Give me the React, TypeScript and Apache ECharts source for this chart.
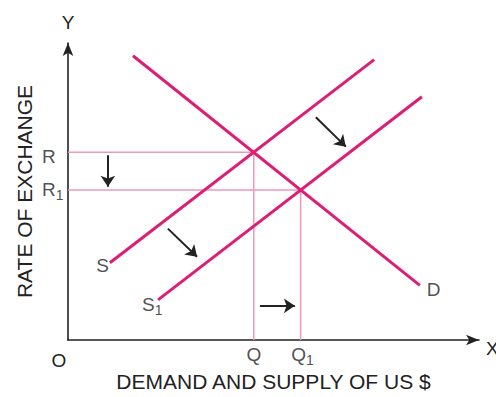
import React, { useEffect, useRef } from "react";
import * as echarts from "echarts";

// ---- data (value units: x 0..100, y 0..100) ----
const demandLine: number[][] = [[15.8, 95.7], [85.6, 18.4]];
const supplyLine: number[][] = [[10.2, 26.0], [74.5, 94.4]];
const supply1Line: number[][] = [[21.9, 13.5], [86.1, 81.9]];

const rateLabels = ["R", "R1"];
const rateValues = [63.2, 50.5];
const qtyLabels = ["Q", "Q1"];
const qtyValues = [45.2, 56.6];

const curveLabels = ["S", "S1", "D"];

// shift arrows: [from, to]
const shiftArrows: number[][][] = [
  [[9.7, 62.2], [9.7, 51.6]],
  [[46.7, 11.5], [55.2, 11.5]],
  [[24.3, 37.5], [31.4, 28.0]],
  [[60.3, 75.0], [67.6, 65.1]],
];

const xTitle = "DEMAND AND SUPPLY OF US $";
const yTitle = "RATE OF EXCHANGE";

const FONT = "'Liberation Sans', Arial, Helvetica, sans-serif";
const MAIN = "#dc1e74";
const GUIDE = "#ee98ba";
const INK = "#222222";

function fmt(t: string) {
  if (t.endsWith("1")) return `{m|${t.slice(0, -1)}}{s|1}`;
  return `{m|${t}}`;
}

const rich = {
  m: { fontSize: 19, lineHeight: 25, color: INK, fontFamily: FONT },
  s: { fontSize: 14, lineHeight: 14, verticalAlign: "bottom", color: INK, fontFamily: FONT },
};

// label placement styles keyed by name
const labelStyle: Record<string, { offset: number[]; align: string }> = {
  R: { offset: [-26, 4], align: "left" },
  R1: { offset: [-26, -1], align: "left" },
  Q: { offset: [0, 14], align: "center" },
  Q1: { offset: [2, 14], align: "center" },
  S: { offset: [-1, 3], align: "right" },
  S1: { offset: [-16, 5], align: "left" },
  D: { offset: [7, 4], align: "left" },
};

export default function App() {
  const ref = useRef<HTMLDivElement>(null);
  useEffect(() => {
    if (!ref.current) return;
    const chart = echarts.init(ref.current, undefined, { renderer: "svg" });

    const curveAnchors: Record<string, number[]> = {
      S: supplyLine[0],
      S1: supply1Line[0],
      D: demandLine[1],
    };

    const labelData: any[] = [];
    rateLabels.forEach((n, i) => labelData.push({ name: n, value: [0, rateValues[i]] }));
    qtyLabels.forEach((n, i) => labelData.push({ name: n, value: [qtyValues[i], 0] }));
    curveLabels.forEach((n) => labelData.push({ name: n, value: curveAnchors[n] }));

    const guideSeries: any[] = [];
    rateValues.forEach((r, i) => {
      guideSeries.push({
        type: "line",
        data: [[0, r], [qtyValues[i], r]],
        symbol: "none",
        lineStyle: { color: GUIDE, width: 1.5 },
        z: 1,
      });
      guideSeries.push({
        type: "line",
        data: [[qtyValues[i], 0], [qtyValues[i], r]],
        symbol: "none",
        lineStyle: { color: GUIDE, width: 1.5 },
        z: 1,
      });
    });

    const curveSeries = [demandLine, supplyLine, supply1Line].map((d) => ({
      type: "line",
      data: d,
      symbol: "none",
      lineStyle: { color: MAIN, width: 3 },
      z: 3,
    }));

    const gText = (text: string, x: number, y: number, align: string) => ({
      type: "text",
      x,
      y,
      style: { text, fontSize: 19, fontFamily: FONT, fill: INK, align, verticalAlign: "middle" },
    });

    chart.setOption({
      animation: false,
      grid: { left: 68, right: 17, top: 43, bottom: 50 },
      xAxis: {
        type: "value",
        min: 0,
        max: 100,
        axisLabel: { show: false },
        axisTick: { show: false },
        splitLine: { show: false },
        axisLine: {
          onZero: false,
          lineStyle: { color: INK, width: 1.6 },
          symbol: ["none", "arrow"],
          symbolSize: [8, 13],
        },
        name: xTitle,
        nameLocation: "middle",
        nameGap: 31,
        nameTextStyle: { fontSize: 21, color: INK, fontFamily: FONT },
      },
      yAxis: {
        type: "value",
        min: 0,
        max: 100,
        axisLabel: { show: false },
        axisTick: { show: false },
        splitLine: { show: false },
        axisLine: {
          onZero: false,
          lineStyle: { color: INK, width: 1.6 },
          symbol: ["none", "arrow"],
          symbolSize: [8, 13],
        },
        name: yTitle,
        nameLocation: "middle",
        nameGap: 33,
        nameTextStyle: { fontSize: 21, color: INK, fontFamily: FONT },
      },
      graphic: [
        gText("Y", 68, 22, "center"),
        gText("X", 486, 348, "left"),
        gText("O", 59, 360, "center"),
      ],
      series: [
        ...guideSeries,
        ...curveSeries,
        {
          type: "lines",
          coordinateSystem: "cartesian2d",
          data: shiftArrows.map((c) => ({ coords: c })),
          symbol: ["none", "arrow"],
          symbolSize: 11,
          lineStyle: { color: INK, width: 2, opacity: 1 },
          z: 4,
        },
        {
          type: "scatter",
          data: labelData.map((d) => ({
            ...d,
            label: {
              show: true,
              position: "inside",
              offset: labelStyle[d.name].offset,
              align: labelStyle[d.name].align,
              verticalAlign: "middle",
              fontSize: 19,
              fontFamily: FONT,
              color: INK,
              formatter: fmt(d.name),
              rich,
            },
          })),
          symbolSize: 0,
          clip: false,
          silent: true,
          z: 5,
        },
      ],
    });
    return () => chart.dispose();
  }, []);
  return <div ref={ref} style={{ width: 496, height: 397, position: "absolute", left: 0, top: 0 }} />;
}
